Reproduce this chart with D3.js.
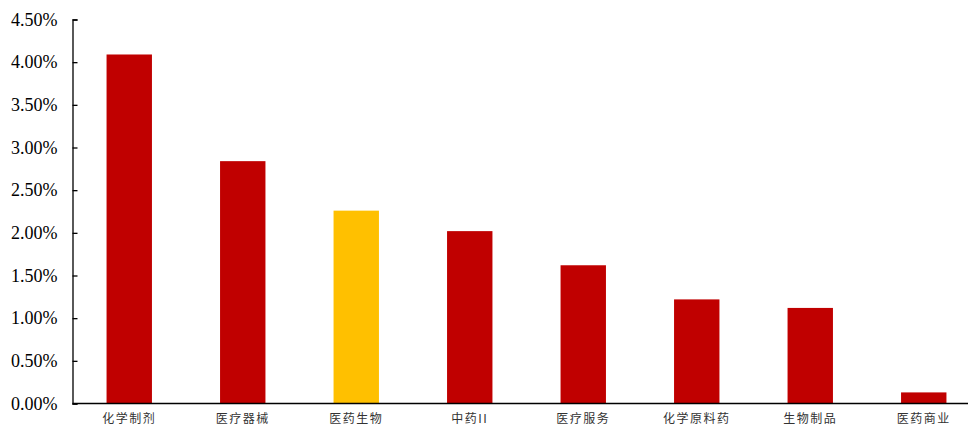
<!DOCTYPE html>
<html><head><meta charset="utf-8">
<script src="https://cdn.jsdelivr.net/npm/d3@7"></script>
<style>body{margin:0;background:#fff;}</style>
</head><body>
<svg id="c" width="968" height="426"></svg>
<script>
const categories = ["化学制剂","医疗器械","医药生物","中药II","医疗服务","化学原料药","生物制品","医药商业"];
const values = [4.09, 2.84, 2.26, 2.02, 1.62, 1.22, 1.12, 0.13];
const highlight = ["医药生物"];
const yTicks = [0,0.5,1,1.5,2,2.5,3,3.5,4,4.5];

const svg = d3.select("#c");
const x = d3.scaleBand().domain(categories).range([72.5, 980.5]).paddingInner(0.6).paddingOuter(0.3);
const y = d3.scaleLinear().domain([0,4.5]).range([403.5,19.5]);

svg.selectAll("rect.bar").data(categories).enter().append("rect")
  .attr("x", d => x(d) )
  .attr("width", x.bandwidth())
  .attr("y", (d,i) => y(values[i]))
  .attr("height", (d,i) => y(0)-y(values[i]))
  .attr("fill", d => highlight.includes(d) ? "#FFC000" : "#C00000");

const ya = svg.append("g").attr("transform","translate(72.5,0)")
  .call(d3.axisLeft(y).tickValues(yTicks).tickFormat(d => d.toFixed(2)+"%").tickSizeInner(-5).tickSizeOuter(-5).tickPadding(15));
ya.selectAll("text").attr("font-family","'Liberation Serif','Times New Roman',serif").attr("font-size","18px").attr("fill","#000");
ya.selectAll("line,path").attr("stroke","#000").attr("stroke-width",1.3);

svg.append("line").attr("x1",72.5).attr("x2",968).attr("y1",y(0)).attr("y2",y(0)).attr("stroke","#000").attr("stroke-width",1.5);

svg.selectAll("text.cat").data(categories).enter().append("text")
  .attr("x", d => x(d)+x.bandwidth()/2)
  .attr("y", 423)
  .attr("text-anchor","middle")
  .attr("font-family","'Noto Sans CJK SC',sans-serif")
  .attr("font-size","12px")
  .attr("letter-spacing","1.5px")
  .attr("fill","#333")
  .text(d => d);
</script>
</body></html>
